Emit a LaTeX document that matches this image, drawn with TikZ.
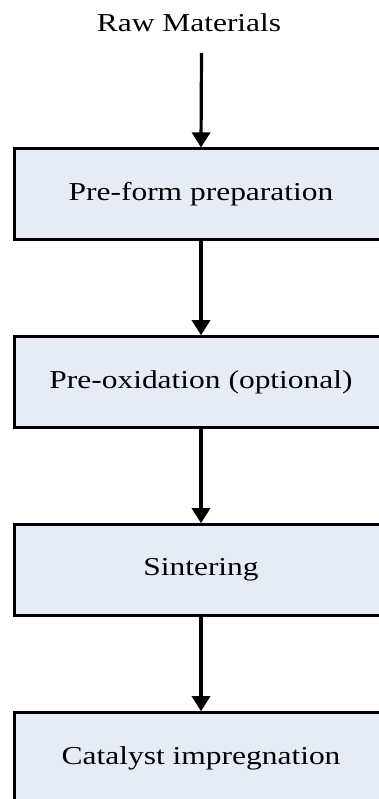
\documentclass[tikz,border=0pt]{standalone}
\usepackage{fontspec}
\setmainfont{Liberation Serif}[FakeStretch=1.22]
\usetikzlibrary{arrows.meta}
\definecolor{boxfill}{RGB}{230,236,247}
\begin{document}
\begin{tikzpicture}[x=1pt,y=-1pt,
  stepbox/.style={draw=black, line width=2.8pt, fill=boxfill, minimum width=373.2pt, minimum height=90.8pt, inner sep=0pt, font=\fontsize{25.8}{30}\selectfont},
  flow/.style={line width=3.2pt, -{Triangle[width=18pt,length=15pt]}},
  lbl/.style={inner sep=0pt, font=\fontsize{25.8}{30}\selectfont}]
\useasboundingbox (0,0) rectangle (379,799);
\node[lbl, anchor=base] (raw) at (189,32) {Raw Materials};
\coordinate (start) at (201.5,53);
\node[stepbox] (b1) at (201,194.25) {Pre-form preparation};
\node[stepbox] (b2) at (201,382) {Pre-oxidation (optional)};
\node[stepbox] (b3) at (201,570) {Sintering};
\node[stepbox] (b4) at (201,758) {Catalyst impregnation};
\draw[flow] (start) -- (b1.north);
\draw[flow] (b1) -- (b2);
\draw[flow] (b2) -- (b3);
\draw[flow] (b3) -- (b4);
\end{tikzpicture}
\end{document}
